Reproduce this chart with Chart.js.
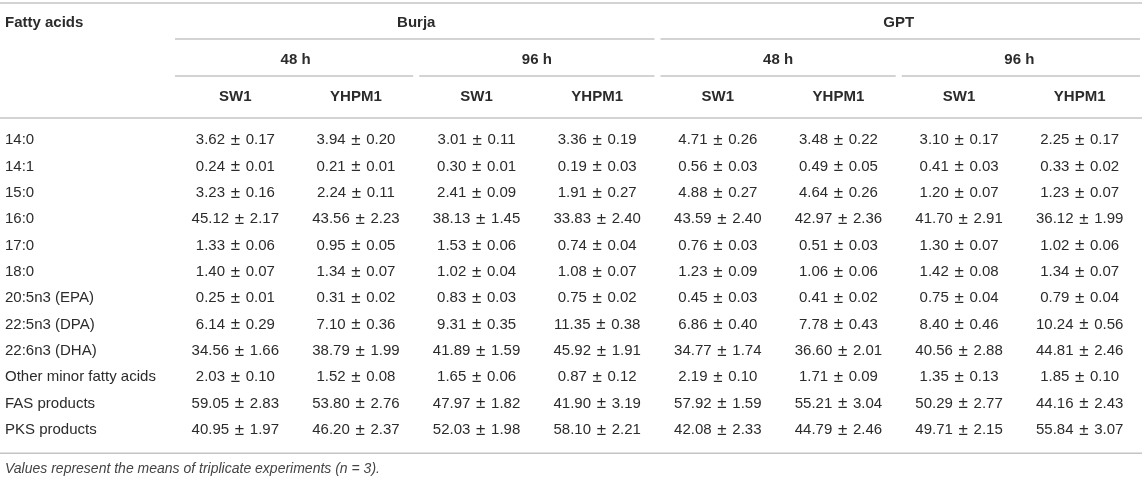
<!DOCTYPE html>
<html>
<head>
<meta charset="utf-8">
<title>Fatty acid composition</title>
<script src="https://cdn.jsdelivr.net/npm/chart.js@4.4.0/dist/chart.umd.min.js"></script>
<style>
  html, body { margin: 0; padding: 0; background: #fff; }
  #wrap { width: 1142px; height: 479px; }
</style>
</head>
<body>
<div id="wrap"><canvas id="fattyChart"></canvas></div>
<script>
// Table data: rows are fatty acids, columns are medium / time / strain.
const fattyAcids = ['14:0', '14:1', '15:0', '16:0', '17:0', '18:0', '20:5n3 (EPA)',
  '22:5n3 (DPA)', '22:6n3 (DHA)', 'Other minor fatty acids', 'FAS products', 'PKS products'];
const media = ['Burja', 'GPT'];
const times = ['48 h', '96 h', '48 h', '96 h'];
const strains = ['SW1', 'YHPM1', 'SW1', 'YHPM1', 'SW1', 'YHPM1', 'SW1', 'YHPM1'];

const burja48Sw1Mean = [3.62, 0.24, 3.23, 45.12, 1.33, 1.40, 0.25, 6.14, 34.56, 2.03, 59.05, 40.95];
const burja48Sw1Sd = [0.17, 0.01, 0.16, 2.17, 0.06, 0.07, 0.01, 0.29, 1.66, 0.10, 2.83, 1.97];
const burja48YhpmMean = [3.94, 0.21, 2.24, 43.56, 0.95, 1.34, 0.31, 7.10, 38.79, 1.52, 53.80, 46.20];
const burja48YhpmSd = [0.20, 0.01, 0.11, 2.23, 0.05, 0.07, 0.02, 0.36, 1.99, 0.08, 2.76, 2.37];
const burja96Sw1Mean = [3.01, 0.30, 2.41, 38.13, 1.53, 1.02, 0.83, 9.31, 41.89, 1.65, 47.97, 52.03];
const burja96Sw1Sd = [0.11, 0.01, 0.09, 1.45, 0.06, 0.04, 0.03, 0.35, 1.59, 0.06, 1.82, 1.98];
const burja96YhpmMean = [3.36, 0.19, 1.91, 33.83, 0.74, 1.08, 0.75, 11.35, 45.92, 0.87, 41.90, 58.10];
const burja96YhpmSd = [0.19, 0.03, 0.27, 2.40, 0.04, 0.07, 0.02, 0.38, 1.91, 0.12, 3.19, 2.21];
const gpt48Sw1Mean = [4.71, 0.56, 4.88, 43.59, 0.76, 1.23, 0.45, 6.86, 34.77, 2.19, 57.92, 42.08];
const gpt48Sw1Sd = [0.26, 0.03, 0.27, 2.40, 0.03, 0.09, 0.03, 0.40, 1.74, 0.10, 1.59, 2.33];
const gpt48YhpmMean = [3.48, 0.49, 4.64, 42.97, 0.51, 1.06, 0.41, 7.78, 36.60, 1.71, 55.21, 44.79];
const gpt48YhpmSd = [0.22, 0.05, 0.26, 2.36, 0.03, 0.06, 0.02, 0.43, 2.01, 0.09, 3.04, 2.46];
const gpt96Sw1Mean = [3.10, 0.41, 1.20, 41.70, 1.30, 1.42, 0.75, 8.40, 40.56, 1.35, 50.29, 49.71];
const gpt96Sw1Sd = [0.17, 0.03, 0.07, 2.91, 0.07, 0.08, 0.04, 0.46, 2.88, 0.13, 2.77, 2.15];
const gpt96YhpmMean = [2.25, 0.33, 1.23, 36.12, 1.02, 1.34, 0.79, 10.24, 44.81, 1.85, 44.16, 55.84];
const gpt96YhpmSd = [0.17, 0.02, 0.07, 1.99, 0.06, 0.07, 0.04, 0.56, 2.46, 0.10, 2.43, 3.07];

const footnote = 'Values represent the means of triplicate experiments (n = 3).';

const columnMeans = [burja48Sw1Mean, burja48YhpmMean, burja96Sw1Mean, burja96YhpmMean,
  gpt48Sw1Mean, gpt48YhpmMean, gpt96Sw1Mean, gpt96YhpmMean];
const columnSds = [burja48Sw1Sd, burja48YhpmSd, burja96Sw1Sd, burja96YhpmSd,
  gpt48Sw1Sd, gpt48YhpmSd, gpt96Sw1Sd, gpt96YhpmSd];
// unique keys so the category scale does not merge the repeated strain names
const columnKeys = strains.map((s, i) => media[Math.floor(i / 4)] + ' ' + times[Math.floor(i / 2)] + ' ' + s);

const TEXT = '#2b2b2b';
const RULE = '#c4c4c4';
const FONT = '"Liberation Sans", Arial, Helvetica, sans-serif';

Chart.defaults.font.family = FONT;
Chart.defaults.font.size = 15;
Chart.defaults.color = TEXT;

const datasets = columnKeys.map((key, c) => ({
  label: key,
  data: fattyAcids.map((fa, r) => ({ x: key, y: fa, mean: columnMeans[c][r], sd: columnSds[c][r] })),
  pointRadius: 0,
  pointHoverRadius: 0
}));

// writes "mean ± sd" at each point the scales placed; the ± is set a little larger
const cellText = {
  id: 'cellText',
  afterDatasetsDraw(chart) {
    const ctx = chart.ctx;
    const numFont = '15px ' + FONT;
    const pmFont = '17px ' + FONT;
    const pm = '\u00b1';
    ctx.save();
    ctx.fillStyle = TEXT;
    ctx.textAlign = 'left';
    ctx.textBaseline = 'middle';
    ctx.font = pmFont;
    const wpm = ctx.measureText(pm).width;
    ctx.font = numFont;
    const gap = ctx.measureText(' ').width + 1.5;
    chart.data.datasets.forEach((ds, i) => {
      chart.getDatasetMeta(i).data.forEach((pt, j) => {
        const d = ds.data[j];
        const m = d.mean.toFixed(2);
        const s = d.sd.toFixed(2);
        const wm = ctx.measureText(m).width;
        const ws = ctx.measureText(s).width;
        let x0 = pt.x - (wm + gap + wpm + gap + ws) / 2;
        ctx.fillText(m, x0, pt.y);
        x0 += wm + gap;
        ctx.font = pmFont;
        ctx.fillText(pm, x0, pt.y);
        ctx.font = numFont;
        x0 += wpm + gap;
        ctx.fillText(s, x0, pt.y);
      });
    });
    ctx.restore();
  }
};

// horizontal rules of the table and the corner header
const tableRules = {
  id: 'tableRules',
  afterDraw(chart) {
    const ctx = chart.ctx;
    const area = chart.chartArea;
    const { x2, x3, y } = chart.scales;
    const hline = (a, b, yy) => {
      ctx.beginPath();
      ctx.moveTo(a, yy);
      ctx.lineTo(b, yy);
      ctx.stroke();
    };
    const groupRule = (scale, n) => {
      const half = (area.right - area.left) / n / 2;
      for (let i = 0; i < n; i++) {
        const c = scale.getPixelForValue(i);
        const a = i === 0 ? c - half : c - half + 3;
        const b = i === n - 1 ? c + half : c + half - 3;
        hline(a, b, scale.bottom);
      }
    };
    ctx.save();
    ctx.strokeStyle = RULE;
    ctx.lineWidth = 1.6;
    hline(0, chart.width, x3.top);
    groupRule(x3, media.length);
    groupRule(x2, times.length);
    hline(0, chart.width, area.top - 9);
    hline(0, chart.width, area.bottom + 10);

    ctx.font = 'bold 15px ' + FONT;
    ctx.fillStyle = TEXT;
    ctx.textAlign = 'left';
    ctx.textBaseline = 'middle';
    ctx.fillText('Fatty acids', y.left, x3.bottom - 16);
    ctx.restore();
  }
};

const headerAxis = (labels, weight, pad, height, cb) => ({
  type: 'category',
  axis: 'x',
  position: 'top',
  labels: labels,
  offset: true,
  weight: weight,
  grid: { display: false, drawTicks: false },
  border: { display: false },
  ticks: {
    autoSkip: false,
    maxRotation: 0,
    minRotation: 0,
    padding: pad,
    font: { size: 15, weight: 'bold' },
    color: TEXT,
    callback: cb
  },
  afterFit: (s) => { s.height = height; }
});

new Chart(document.getElementById('fattyChart'), {
  type: 'scatter',
  data: { datasets: datasets },
  options: {
    responsive: true,
    maintainAspectRatio: false,
    animation: false,
    events: [],
    layout: { padding: { top: 3, left: 5, right: 2, bottom: 0 } },
    scales: {
      x: headerAxis(columnKeys, 0, 21, 51, (v, i) => strains[i]),
      x2: Object.assign(headerAxis(times, 1, 7, 37, (v, i) => times[i]), { min: 0, max: times.length - 1 }),
      x3: Object.assign(headerAxis(media, 2, 7, 36, (v, i) => media[i]), { min: 0, max: media.length - 1 }),
      y: {
        type: 'category',
        labels: fattyAcids,
        offset: true,
        grid: { display: false, drawTicks: false },
        border: { display: false },
        ticks: { autoSkip: false, crossAlign: 'far', font: { size: 15 }, color: TEXT },
        afterFit: (s) => { s.width = 170; }
      }
    },
    plugins: {
      legend: { display: false },
      tooltip: { enabled: false },
      title: {
        display: true,
        position: 'bottom',
        align: 'start',
        text: footnote,
        color: '#444',
        font: { size: 14, style: 'italic', weight: 'normal' },
        padding: { top: 18, bottom: 1 }
      }
    }
  },
  plugins: [cellText, tableRules]
});
</script>
</body>
</html>
